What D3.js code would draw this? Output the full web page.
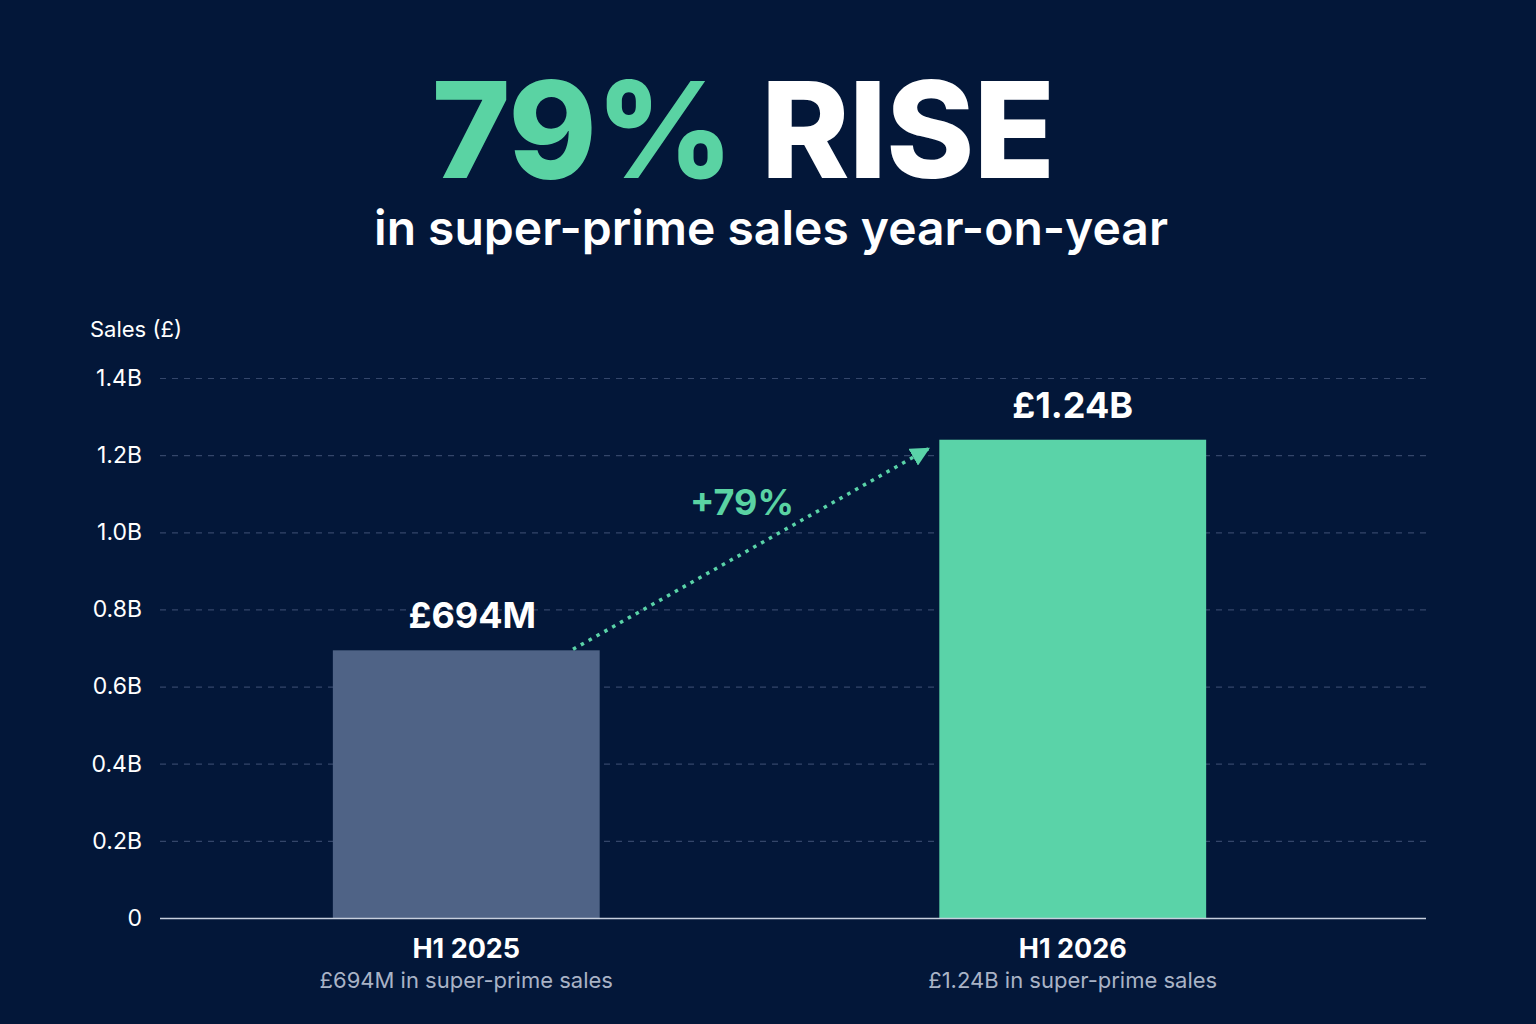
<!DOCTYPE html>
<html><head><meta charset="utf-8">
<script src="https://cdn.jsdelivr.net/npm/d3@7"></script>
<style>
html,body{margin:0;padding:0;background:#031739;}
svg{display:block;}
text{font-family:Inter,"Open Sans",sans-serif;}
</style></head>
<body>
<svg id="chart" width="1536" height="1024"></svg>
<script>
const categories = ["H1 2025", "H1 2026"];
const values = [0.694, 1.24];           // £ billions
const valueLabels = ["£694M", "£1.24B"];
const subLabels = ["£694M in super-prime sales", "£1.24B in super-prime sales"];
const tickValues = [0, 0.2, 0.4, 0.6, 0.8, 1.0, 1.2, 1.4];
const tickLabels = ["0", "0.2B", "0.4B", "0.6B", "0.8B", "1.0B", "1.2B", "1.4B"];
const barColors = ["#4f6386", "#5ad3a8"];
const changeLabel = "+79%";

const W = 1536, H = 1024;
const svg = d3.select("#chart");
svg.append("rect").attr("width", W).attr("height", H).attr("fill", "#031739");

const plotLeft = 160, plotRight = 1426, plotTop = 378, plotBottom = 918;
const y = d3.scaleLinear().domain([0, 1.4]).range([plotBottom, plotTop]);
const x = d3.scaleBand().domain(categories).range([160, 1379]).paddingInner(0.56).paddingOuter(0.285);

// Title
const title = svg.append("text").attr("x", 743).attr("y", 178).attr("text-anchor", "middle")
  .attr("font-size", 134).attr("font-weight", 800).attr("letter-spacing", -1);
title.append("tspan").attr("fill", "#5ad3a3").text("79% ");
title.append("tspan").attr("fill", "#ffffff").text("RISE");

svg.append("text").attr("x", 771).attr("y", 245).attr("text-anchor", "middle")
  .attr("font-size", 48).attr("font-weight", 600).attr("fill", "#ffffff")
  .text("in super-prime sales year-on-year");

// Axis title
svg.append("text").attr("x", 90).attr("y", 337).attr("font-size", 22).attr("fill", "#ffffff")
  .text("Sales (£)");

// Grid lines
const gridG = svg.append("g").attr("transform", `translate(${plotLeft},0)`)
  .call(d3.axisLeft(y).tickValues(tickValues.filter(d => d > 0)).tickSize(-(plotRight - plotLeft)).tickFormat(""));
gridG.select(".domain").remove();
gridG.selectAll(".tick line").attr("stroke", "#34466a").attr("stroke-width", 1.2).attr("stroke-dasharray", "6,6");

// Tick labels
const yAxis = svg.append("g").attr("transform", `translate(${plotLeft},0)`)
  .call(d3.axisLeft(y).tickValues(tickValues).tickSize(0).tickPadding(18)
    .tickFormat((d, i) => tickLabels[i]));
yAxis.select(".domain").remove();
yAxis.selectAll("text").attr("fill", "#ffffff").attr("font-size", 23)
  .attr("font-family", "Inter, 'Open Sans', sans-serif");

// Bars
svg.selectAll(".bar").data(categories).enter().append("rect")
  .attr("x", d => x(d)).attr("width", x.bandwidth())
  .attr("y", (d, i) => y(values[i])).attr("height", (d, i) => plotBottom - y(values[i]))
  .attr("fill", (d, i) => barColors[i]);

// Baseline
svg.append("line").attr("x1", plotLeft).attr("x2", plotRight).attr("y1", plotBottom + 0.5).attr("y2", plotBottom + 0.5)
  .attr("stroke", "#c7cfdd").attr("stroke-width", 1.3);

// Value labels
svg.selectAll(".vl").data(categories).enter().append("text")
  .attr("x", (d, i) => x(d) + x.bandwidth() / 2 + (i === 0 ? 6 : 0)).attr("y", (d, i) => y(values[i]) - 22)
  .attr("text-anchor", "middle").attr("font-size", 36).attr("font-weight", 700).attr("fill", "#ffffff")
  .text((d, i) => valueLabels[i]);

// Category labels
svg.selectAll(".cl").data(categories).enter().append("text")
  .attr("x", d => x(d) + x.bandwidth() / 2).attr("y", 958)
  .attr("text-anchor", "middle").attr("font-size", 27).attr("font-weight", 700).attr("fill", "#ffffff")
  .text(d => d);
svg.selectAll(".sl").data(categories).enter().append("text")
  .attr("x", d => x(d) + x.bandwidth() / 2).attr("y", 988)
  .attr("text-anchor", "middle").attr("font-size", 22).attr("font-weight", 400).attr("fill", "#a9b3c6")
  .text((d, i) => subLabels[i]);

// Arrow
const defs = svg.append("defs");
defs.append("marker").attr("id", "ah").attr("viewBox", "0 0 10 10").attr("refX", 9).attr("refY", 5)
  .attr("markerWidth", 5.5).attr("markerHeight", 5.5).attr("markerUnits", "strokeWidth").attr("orient", "auto")
  .append("path").attr("d", "M0,0 L10,5 L0,10 z").attr("fill", "#5ad3a8");
const ax1 = x(categories[0]) + x.bandwidth() * 0.9, ay1 = y(values[0]) - 1;
const ax2 = x(categories[1]) - 11, ay2 = y(values[1]) + 9;
svg.append("line").attr("x1", ax1).attr("y1", ay1).attr("x2", ax2).attr("y2", ay2)
  .attr("stroke", "#5ad3a8").attr("stroke-width", 3.5).attr("stroke-dasharray", "3.5,5.5")
  .attr("marker-end", "url(#ah)");

svg.append("text").attr("x", 742).attr("y", 515).attr("text-anchor", "middle")
  .attr("font-size", 36).attr("font-weight", 700).attr("fill", "#5ad3a3").text(changeLabel);
</script>
</body></html>
